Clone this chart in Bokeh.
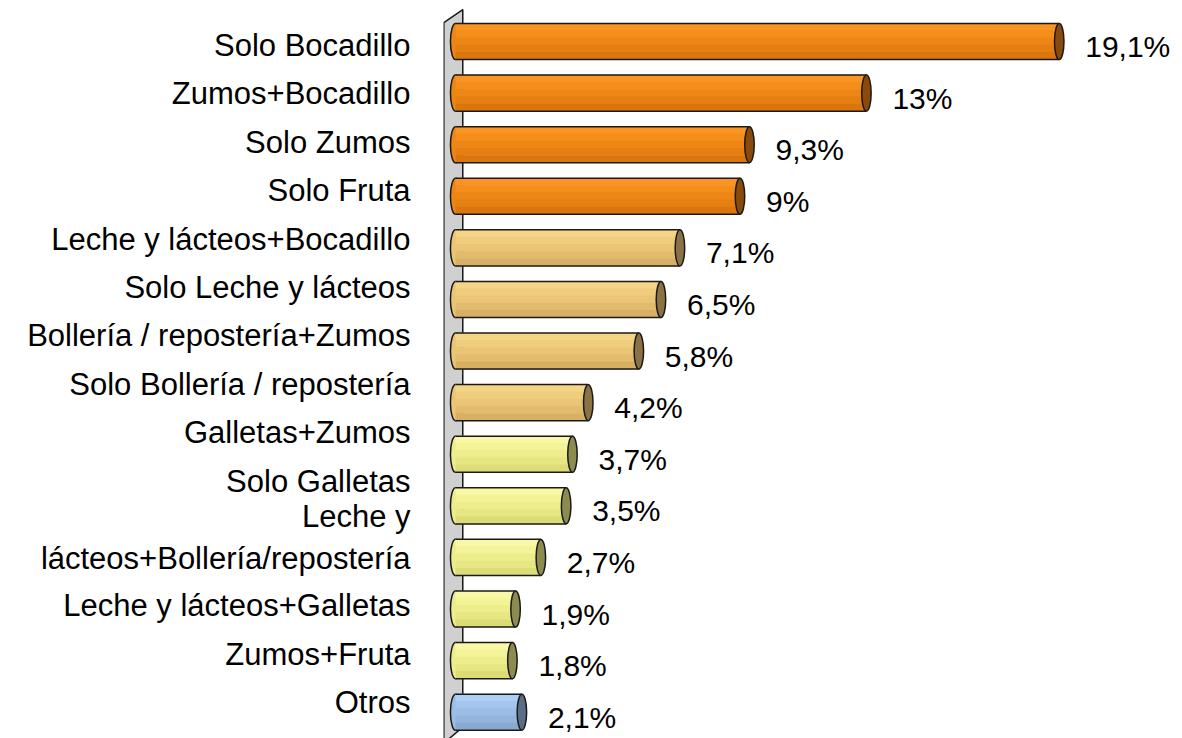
from bokeh.plotting import figure
from bokeh.models import ColumnDataSource, Range1d, FixedTicker, LinearAxis
from bokeh.embed import file_html
from bokeh.resources import INLINE
from bokeh.core.properties import value

categories = [
    "Solo Bocadillo", "Zumos+Bocadillo", "Solo Zumos", "Solo Fruta",
    "Leche y lácteos+Bocadillo", "Solo Leche y lácteos",
    "Bollería / repostería+Zumos", "Solo Bollería / repostería",
    "Galletas+Zumos", "Solo Galletas",
    "Leche y\nlácteos+Bollería/repostería",
    "Leche y lácteos+Galletas", "Zumos+Fruta", "Otros",
]
values = [19.1, 13, 9.3, 9, 7.1, 6.5, 5.8, 4.2, 3.7, 3.5, 2.7, 1.9, 1.8, 2.1]
value_labels = ["19,1%", "13%", "9,3%", "9%", "7,1%", "6,5%", "5,8%", "4,2%",
                "3,7%", "3,5%", "2,7%", "1,9%", "1,8%", "2,1%"]
groups = ["orange"] * 4 + ["tan"] * 4 + ["yellow"] * 5 + ["blue"]

stripe_colors = {
    "orange": ["#FA9422", "#F48D1A", "#EE8615", "#E67F12", "#DB750E"],
    "tan": ["#F4D586", "#EFCD7D", "#E9C575", "#E2BC6C", "#D8B064"],
    "yellow": ["#F8F8A6", "#F3F398", "#EDED8C", "#E6E682", "#DCDC76"],
    "blue": ["#AECEF4", "#A4C6EE", "#9CBEE6", "#93B5DD", "#89A9D1"],
}
cap_colors = {"orange": "#8A4A0C", "tan": "#8A7244", "yellow": "#8C8C50", "blue": "#5C6E86"}

n = len(values)
rows = list(range(n))
bar_h = 0.70
n_str = 5

p = figure(width=1182, height=738, output_backend="svg", toolbar_location=None,
           x_range=Range1d(-0.38, 23.0), y_range=Range1d(13.51, -0.795),
           y_axis_location=None,
           min_border_left=443, min_border_right=0, min_border_top=0, min_border_bottom=0)
p.outline_line_color = None
p.xgrid.visible = False
p.ygrid.visible = False
p.xaxis.visible = False
p.background_fill_color = "white"
p.border_fill_color = "white"

# wall (side panel of the 3D chart)
p.patch([-0.37, 0.23, 0.23, -0.37], [-0.368, -0.62, 13.29, 13.6],
        fill_color="#D0D0D0", line_color="#1a1a1a", line_width=1.5)

# left ends of cylinders
mid_colors = [stripe_colors[g][2] for g in groups]
p.ellipse(x=[0] * n, y=rows, width=0.32, height=bar_h, fill_color=mid_colors,
          line_color="#1a1a1a", line_width=1.5)

# striped bodies
sy, sc, sv = [], [], []
for i in rows:
    for k in range(n_str):
        sy.append(i - bar_h / 2 + (k + 0.5) * bar_h / n_str)
        sv.append(values[i])
        sc.append(stripe_colors[groups[i]][k])
src = ColumnDataSource(dict(y=sy, right=sv, color=sc))
p.hbar(y="y", left=0, right="right", height=bar_h / n_str + 0.012, fill_color="color",
       line_color=None, source=src)

# outlines top/bottom
p.segment(x0=[0] * n, y0=[r - bar_h / 2 for r in rows], x1=values,
          y1=[r - bar_h / 2 for r in rows], line_color="#1a1a1a", line_width=1.5)
p.segment(x0=[0] * n, y0=[r + bar_h / 2 for r in rows], x1=values,
          y1=[r + bar_h / 2 for r in rows], line_color="#1a1a1a", line_width=1.5)

# right caps
p.ellipse(x=values, y=rows, width=0.3, height=bar_h,
          fill_color=[cap_colors[g] for g in groups], line_color="#1a1a1a", line_width=1.5)

# value labels
lsrc = ColumnDataSource(dict(x=values, y=rows, t=value_labels))
p.text(x="x", y="y", text="t", source=lsrc, x_offset=26, y_offset=5,
       text_font=value("Liberation Sans"), text_font_size="30px",
       text_baseline="middle", text_align="left", text_color="black")

# category labels on the front plane (slightly tighter spacing, multi-line labels take more room)
label_pos = []
extra = 0.0
for c in categories:
    lines = c.count("\n") + 1
    label_pos.append(len(label_pos) + extra + 0.17 * (lines - 1))
    extra += 0.58 * (lines - 1)
p.extra_y_ranges = {"lab": Range1d(14.32, -0.93)}
ax = LinearAxis(y_range_name="lab")
ax.ticker = FixedTicker(ticks=label_pos)
ax.major_label_overrides = {pos: c for pos, c in zip(label_pos, categories)}
ax.axis_line_color = None
ax.major_tick_line_color = None
ax.minor_tick_line_color = None
ax.major_tick_out = 0
ax.major_tick_in = 0
ax.major_label_standoff = 33
ax.major_label_text_font = "Liberation Sans"
ax.major_label_text_font_size = "31px"
ax.major_label_text_color = "black"
p.add_layout(ax, "left")

open("out.html", "w").write(file_html(p, INLINE))
